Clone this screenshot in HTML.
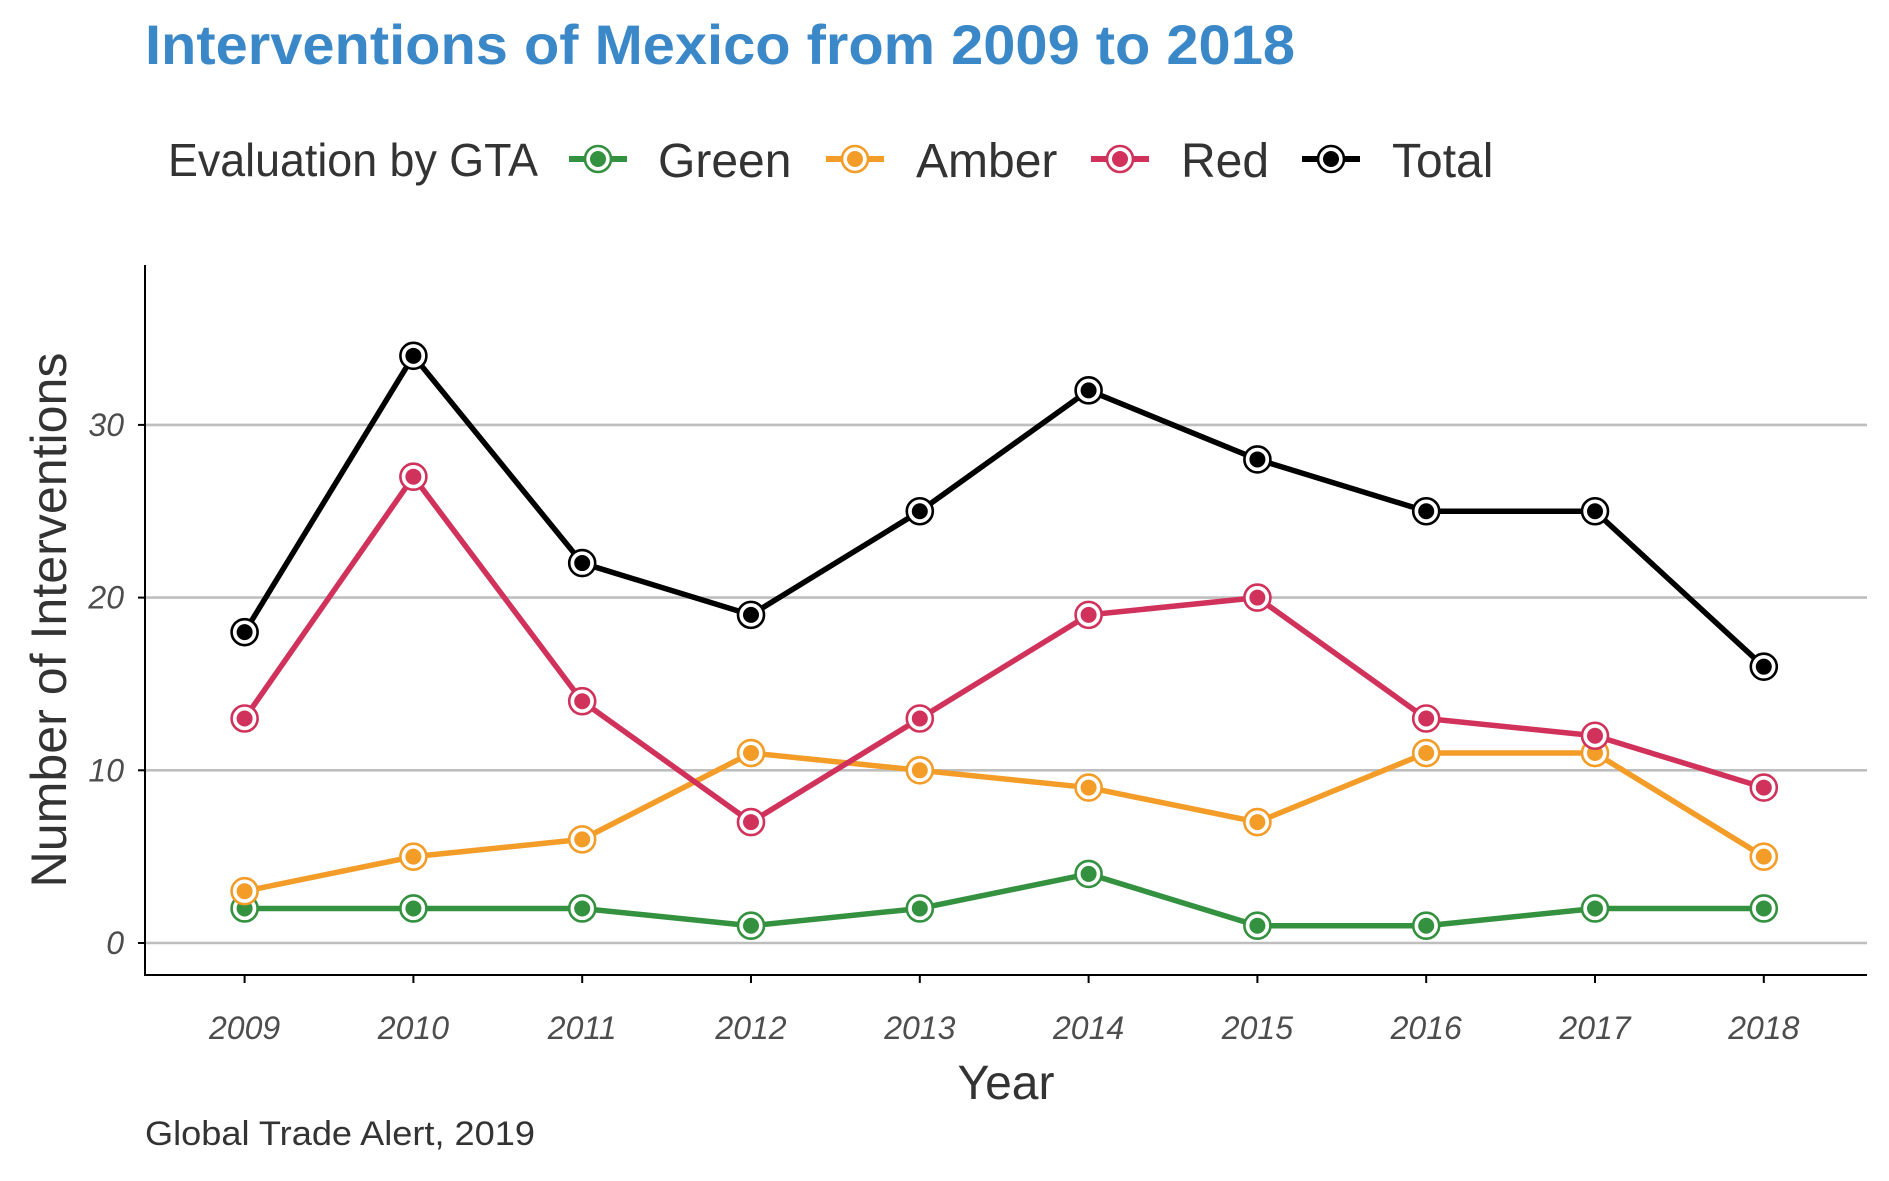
<!DOCTYPE html>
<html><head><meta charset="utf-8"><style>
html,body{margin:0;padding:0;background:#fff;}
svg{display:block;font-family:"Liberation Sans",sans-serif;}
</style></head><body>
<svg id="chart" width="1889" height="1181" viewBox="0 0 1889 1181">
<text x="145" y="64" font-size="56" font-weight="bold" fill="#3b88c9" textLength="1150" lengthAdjust="spacingAndGlyphs">Interventions of Mexico from 2009 to 2018</text>
<g id="legend">
<text x="168" y="176" font-size="46" fill="#333" textLength="370" lengthAdjust="spacingAndGlyphs">Evaluation by GTA</text>
</g>
<g id="grid"></g>
<g id="axes"></g>
<g id="series"></g>
<text transform="translate(66,620) rotate(-90)" text-anchor="middle" font-size="50" fill="#333" textLength="535" lengthAdjust="spacingAndGlyphs">Number of Interventions</text>
<text x="1006" y="1099" text-anchor="middle" font-size="48" fill="#333">Year</text>
<text x="145" y="1145" font-size="34" fill="#333" textLength="390" lengthAdjust="spacingAndGlyphs">Global Trade Alert, 2019</text>
</svg>
<script>
const years = [2009,2010,2011,2012,2013,2014,2015,2016,2017,2018];
const green = [2,2,2,1,2,4,1,1,2,2];
const amber = [3,5,6,11,10,9,7,11,11,5];
const red = [13,27,14,7,13,19,20,13,12,9];
const total = [18,34,22,19,25,32,28,25,25,16];
const yTicks = [0,10,20,30];
const seriesNames = ["Green","Amber","Red","Total"];

const NS = "http://www.w3.org/2000/svg";
const X0 = 244.6, DX = 168.8, Y0 = 943, DY = 17.27;
const xs = i => X0 + i * DX;
const ys = v => Y0 - v * DY;
function mk(tag, attrs, parent){ const e=document.createElementNS(NS,tag); for(const k in attrs) e.setAttribute(k,attrs[k]); parent.appendChild(e); return e; }
const grid=document.getElementById('grid'), axes=document.getElementById('axes'), ser=document.getElementById('series'), leg=document.getElementById('legend');

yTicks.forEach(t=>{
  const l=mk('line',{x1:145,x2:1867,y1:ys(t),y2:ys(t),stroke:'#bebebe','stroke-width':2.6},grid);
  
  
  const tk=mk('line',{x1:138,x2:145,y1:ys(t),y2:ys(t),stroke:'#000','stroke-width':2},axes);
  
  
  const tx=mk('text',{x:124,y:ys(t)+11,'text-anchor':'end','font-size':32,'font-style':'italic',fill:'#4d4d4d'},axes);
  tx.textContent=t;
  
  
});
const ya=mk('line',{x1:145,x2:145,y1:265,y2:976,stroke:'#000','stroke-width':2},axes);


const xa=mk('line',{x1:144,x2:1867,y1:975,y2:975,stroke:'#000','stroke-width':2},axes);


years.forEach((y,i)=>{
  const tk=mk('line',{x1:xs(i),x2:xs(i),y1:975,y2:983,stroke:'#000','stroke-width':2},axes);
  
  
  const tx=mk('text',{x:xs(i),y:1039,'text-anchor':'middle','font-size':32,'font-style':'italic',fill:'#4d4d4d'},axes);
  tx.textContent=y;
  
  
});

const colors=['#33913f','#f39c28','#d1325b','#000000'];
const data=[green,amber,red,total];
data.forEach((arr,s)=>{
  const g=mk('g',{},ser);
  
  
  const p=mk('polyline',{points:arr.map((v,i)=>xs(i)+','+ys(v)).join(' '),fill:'none',stroke:colors[s],'stroke-width':5.5,'stroke-linejoin':'round'},g);
  
  
  arr.forEach((v,i)=>{
    const r=mk('circle',{cx:xs(i),cy:ys(v),r:13,fill:'#fff',stroke:colors[s],'stroke-width':2.6},g);
    
    
    const d=mk('circle',{cx:xs(i),cy:ys(v),r:8,fill:colors[s]},g);
    
    
  });
});

const keyX=[598,855,1120,1331], labX=[658,916,1181,1392];
seriesNames.forEach((n,s)=>{
  const g=mk('g',{},leg);
  
  
  mk('line',{x1:keyX[s]-29,x2:keyX[s]+29,y1:159,y2:159,stroke:colors[s],'stroke-width':6},g);
  mk('circle',{cx:keyX[s],cy:159,r:13,fill:'#fff',stroke:colors[s],'stroke-width':2.6},g);
  mk('circle',{cx:keyX[s],cy:159,r:8,fill:colors[s]},g);
  const t=mk('text',{x:labX[s],y:177,'font-size':48,fill:'#333'},g);
  t.textContent=n;
  
  
});
</script>
</body></html>
